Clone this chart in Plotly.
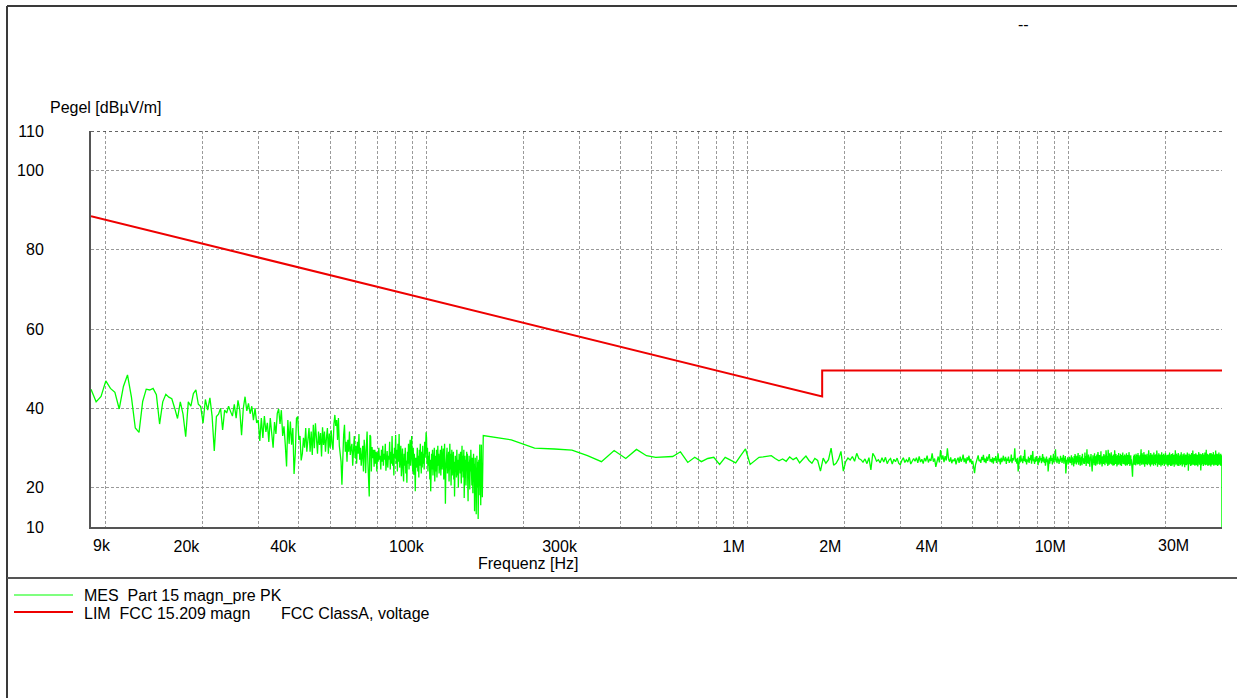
import numpy as np
import plotly.graph_objects as go

# ---- sweep definitions (Hz) ----
LOW_START, LOW_STOP = 9e3, 150e3
HIGH_START, HIGH_STOP = 150e3, 30e6

# MES  Part 15 magn_pre PK, 9 kHz - 150 kHz band (dBuV/m)
low_levels = [
    44.8, 41.6, 43.0, 46.9, 45.0, 44.0, 39.8, 45.5, 48.4, 42.8,
    35.0, 33.9, 41.7, 44.8, 44.6, 45.0, 43.4, 36.0, 41.6, 43.5,
    42.8, 42.4, 40.0, 37.4, 41.6, 38.5, 32.8, 41.6, 40.5, 43.7,
    44.6, 41.0, 40.4, 36.2, 42.2, 39.5, 42.6, 38.0, 29.2, 37.9,
    38.5, 40.0, 34.5, 39.5, 38.8, 40.5, 39.2, 38.0, 41.0, 37.5,
    42.0, 39.5, 33.2, 40.0, 42.9, 39.3, 41.2, 38.6, 40.5, 37.0,
    40.0, 36.3, 37.0, 31.7, 37.5, 32.5, 38.0, 34.0, 36.3, 31.5,
    37.5, 34.0, 30.0, 36.5, 33.5, 38.7, 39.8, 36.0, 39.5, 33.0,
    35.4, 30.8, 25.3, 37.0, 31.0, 36.6, 30.8, 35.0, 23.4, 28.5,
    37.4, 37.9, 32.0, 33.0, 26.8, 28.5, 32.5, 30.0, 35.0, 29.0,
    31.5, 35.0, 29.0, 34.1, 28.2, 35.8, 29.9, 36.2, 32.4, 28.5,
    34.1, 30.7, 33.7, 27.8, 35.2, 30.7, 34.1, 29.0, 32.5, 35.0,
    28.5, 33.6, 30.0, 34.4, 31.0, 29.5, 36.0, 38.3, 35.5, 37.0,
    32.0, 37.5, 30.5, 27.5, 26.5, 20.7, 29.9, 33.2, 35.8, 29.0,
    31.5, 26.5, 32.0, 29.0, 34.1, 28.2, 29.9, 31.0, 25.5, 29.5,
    33.0, 27.4, 30.5, 26.0, 31.5, 28.5, 33.5, 27.0, 30.0, 25.5,
    29.0, 30.5, 24.0, 32.0, 29.0, 23.6, 30.2, 34.1, 27.0, 18.2,
    17.7, 33.2, 32.8, 24.0, 30.2, 27.4, 29.5, 25.2, 29.5, 26.0,
    29.0, 24.0, 28.8, 26.5, 30.0, 27.0, 28.0, 24.5, 29.5, 26.5,
    30.5, 25.5, 28.5, 27.0, 31.0, 24.2, 27.8, 29.2, 25.0, 28.0,
    27.0, 31.5, 24.5, 29.0, 26.0, 33.0, 25.5, 28.5, 23.0, 30.0,
    27.5, 33.2, 26.0, 29.5, 24.0, 31.0, 26.5, 33.5, 25.0, 28.0,
    30.5, 22.8, 27.0, 29.8, 24.5, 21.5, 28.5, 25.5, 30.0, 23.5,
    26.8, 21.2, 29.0, 26.0, 31.0, 24.5, 28.5, 32.0, 25.5, 29.5,
    33.0, 27.0, 24.0, 30.0, 23.2, 28.5, 26.0, 19.0, 27.5, 25.0,
    26.5, 30.0, 24.0, 28.0, 22.5, 29.5, 25.5, 31.0, 27.0, 23.5,
    29.0, 25.0, 30.5, 26.0, 28.5, 24.5, 31.5, 27.5, 29.8, 33.9,
    32.5, 26.0, 30.0, 24.0, 28.0, 25.5, 29.0, 22.0, 27.0, 19.0,
    26.0, 28.5, 24.5, 29.5, 23.0, 27.5, 25.0, 30.0, 21.5, 26.5,
    28.0, 24.0, 29.5, 22.5, 27.0, 30.5, 25.5, 28.5, 23.5, 27.0,
    25.0, 29.5, 23.0, 27.5, 30.5, 24.5, 28.0, 26.0, 29.8, 22.0,
    27.0, 31.0, 25.5, 15.9, 24.0, 28.5, 26.5, 30.0, 23.5, 27.5,
    25.0, 29.0, 21.5, 27.0, 31.0, 24.5, 28.5, 20.5, 26.0, 29.5,
    23.0, 27.0, 25.5, 29.0, 22.0, 26.5, 17.7, 25.0, 28.0, 24.0,
    27.5, 22.5, 29.5, 25.5, 23.0, 27.0, 20.0, 26.0, 28.5, 24.5,
    27.0, 23.5, 29.0, 25.0, 21.0, 27.5, 30.5, 24.0, 28.0, 22.5,
    26.5, 29.5, 17.3, 25.5, 28.0, 23.0, 27.0, 20.5, 26.0, 29.0,
    24.5, 28.5, 21.5, 16.5, 26.5, 23.0, 28.0, 25.0, 19.5, 27.0,
    24.0, 29.5, 22.0, 26.5, 20.5, 27.5, 23.5, 18.5, 25.5, 28.5,
    22.0, 26.0, 14.0, 24.0, 27.5, 21.0, 25.0, 13.2, 23.5, 28.0,
    20.0, 26.5, 24.0, 12.0, 22.5, 27.0, 18.0, 25.5, 30.8, 21.5,
    26.0, 15.5, 24.5, 30.8, 20.0, 26.0, 17.5, 23.5, 28.0, 22.0,
]

# MES  Part 15 magn_pre PK, 150 kHz - 30 MHz band (dBuV/m)
high_levels = [
    33.1, 32.0, 29.9, 29.7, 29.4, 28.0, 26.5, 29.3, 27.3, 29.6,
    28.0, 27.6, 27.7, 27.8, 29.0, 26.3, 27.6, 26.5, 27.3, 27.6,
    25.8, 27.6, 26.9, 26.2, 28.0, 29.7, 25.8, 26.7, 27.6, 27.7,
    27.9, 28.0, 27.3, 26.7, 27.2, 26.6, 27.7, 27.0, 27.5, 26.2,
    27.1, 27.9, 26.8, 26.1, 27.3, 26.8, 24.1, 27.4, 26.1, 27.0,
    29.9, 25.6, 26.1, 27.2, 29.1, 24.1, 26.5, 27.4, 26.9, 27.8,
    26.6, 28.6, 27.3, 27.0, 26.4, 27.2, 26.0, 27.5, 24.4, 28.6,
    27.8, 26.6, 27.0, 26.2, 27.5, 26.4, 27.6, 26.0, 26.9, 27.3,
    25.9, 27.1, 26.5, 27.4, 26.1, 25.7, 26.8, 27.5, 26.3, 27.0,
    26.4, 27.6, 25.9, 26.7, 27.3, 26.6, 27.5, 26.2, 27.8, 26.4,
    27.1, 26.0, 27.4, 26.6, 28.0, 26.3, 27.2, 26.7, 28.6, 26.5,
    27.3, 25.2, 26.9, 27.8, 26.3, 29.4, 27.0, 28.1, 26.4, 27.9,
    26.8, 29.9, 27.2, 26.5, 27.6, 26.1, 27.0, 26.6, 27.4, 25.8,
    26.9, 27.5, 26.2, 27.8, 26.5, 27.1, 28.3, 26.4, 27.3, 26.0,
    27.6, 26.8, 28.0, 26.3, 27.2, 25.9, 26.7, 24.8, 23.6, 25.7,
    26.5, 27.4, 28.1, 26.6, 27.0, 26.2, 27.7, 26.9, 28.2, 26.4,
    27.3, 26.1, 27.8, 26.7, 27.5, 28.4, 26.5, 27.1, 26.3, 27.6,
    26.0, 27.4, 26.8, 27.9, 26.2, 27.0, 28.6, 26.5, 27.2, 25.8,
    27.5, 26.4, 27.1, 28.0, 26.6, 26.9, 27.7, 25.9, 27.3, 26.7,
    27.8, 26.2, 27.0, 26.6, 28.3, 26.1, 27.4, 26.8, 27.6, 29.9,
    26.5, 27.2, 26.0, 27.5, 24.0, 26.9, 27.7, 26.3, 28.1, 26.6,
    27.3, 26.1, 27.9, 26.7, 29.5, 26.4, 27.2, 25.8, 27.0, 26.5,
    27.8, 26.2, 27.4, 26.9, 28.2, 26.0, 27.3, 29.2, 26.6, 27.1,
    25.9, 27.6, 26.4, 27.9, 26.7, 27.2, 25.6, 27.5, 26.3, 28.0,
    26.8, 27.4, 26.1, 27.0, 28.4, 26.5, 27.7, 26.2, 27.3, 25.5,
    26.9, 27.8, 26.4, 27.1, 24.0, 26.6, 27.5, 26.0, 27.2, 28.1,
    26.7, 27.4, 25.8, 27.0, 28.5, 26.3, 27.6, 26.9, 29.6, 26.5,
    27.2, 26.1, 27.8, 26.6, 27.3, 25.9, 27.0, 26.4, 28.0, 26.8,
    27.5, 26.2, 27.1, 26.7, 28.2, 26.0, 27.4, 26.5, 27.9, 23.5,
    26.3, 27.0, 26.8, 27.6, 25.8, 27.2, 26.4, 27.7, 26.1, 27.3,
    26.2, 28.1, 25.6, 27.6, 26.7, 27.3, 25.3, 27.9, 26.0, 28.4,
    26.6, 27.5, 25.8, 28.0, 26.3, 27.1, 28.7, 25.7, 27.6, 26.4,
    28.2, 25.5, 27.3, 26.4, 27.8, 25.6, 28.5, 26.7, 27.4, 26.0,
    27.1, 25.9, 28.8, 26.5, 27.9, 25.4, 27.2, 29.6, 26.2, 27.7,
    25.9, 28.3, 26.3, 27.4, 25.2, 27.8, 26.8, 28.4, 25.8, 27.0,
    24.0, 26.7, 28.1, 26.1, 27.5, 25.6, 28.6, 26.5, 27.2, 25.5,
    27.9, 26.3, 28.3, 25.8, 27.6, 28.9, 26.4, 27.1, 25.9, 28.2,
    25.7, 27.4, 26.6, 29.1, 26.0, 27.8, 25.3, 27.2, 26.7, 28.0,
    25.9, 28.4, 26.4, 27.5, 25.6, 28.1, 26.2, 29.4, 26.7, 27.6,
    25.9, 27.9, 25.4, 29.5, 26.5, 27.4, 25.7, 28.6, 26.6, 27.8,
    26.0, 27.2, 28.9, 25.8, 28.0, 26.7, 27.5, 25.5, 28.3, 26.3,
    27.4, 25.6, 29.4, 26.5, 27.8, 25.9, 28.4, 26.6, 27.2, 25.3,
    27.7, 26.2, 28.1, 25.7, 28.7, 26.7, 27.4, 26.0, 27.9, 25.6,
    28.5, 26.4, 27.5, 25.4, 28.2, 26.3, 27.2, 28.8, 25.9, 27.8,
    26.5, 28.0, 25.8, 28.3, 26.1, 27.6, 25.5, 27.3, 26.4, 28.6,
    26.0, 27.9, 25.6, 28.2, 26.5, 27.2, 25.9, 28.9, 26.2, 27.5,
    25.4, 27.8, 26.6, 28.1, 25.8, 27.1, 26.1, 25.0, 24.1, 22.7,
    25.2, 27.5, 26.0, 28.0, 25.7, 28.3, 26.5, 27.5, 25.9, 27.9,
    25.6, 28.5, 26.4, 27.6, 26.1, 28.2, 25.8, 27.3, 28.7, 26.2,
    27.8, 25.9, 28.1, 26.6, 27.4, 25.5, 28.4, 26.2, 27.7, 29.6,
    26.5, 27.9, 25.7, 28.6, 26.4, 27.2, 26.0, 28.2, 25.8, 28.9,
    26.6, 27.6, 25.2, 28.0, 26.1, 28.3, 26.5, 27.4, 25.9, 28.1,
    26.2, 28.5, 25.6, 27.8, 26.6, 27.3, 26.0, 29.4, 26.4, 27.7,
    25.7, 28.1, 26.3, 27.6, 25.3, 28.7, 26.6, 27.2, 26.1, 28.0,
    25.8, 28.3, 26.5, 27.8, 26.0, 27.5, 25.5, 28.8, 26.2, 27.9,
    25.9, 28.2, 26.4, 27.4, 25.6, 28.4, 26.6, 27.7, 26.1, 29.3,
    26.5, 27.6, 25.2, 28.1, 26.0, 27.9, 25.8, 28.6, 26.4, 27.3,
    25.7, 28.0, 26.3, 28.3, 25.9, 27.7, 25.3, 27.5, 26.6, 28.9,
    26.1, 27.8, 25.6, 28.2, 26.5, 27.4, 26.0, 28.5, 26.2, 27.6,
    25.4, 28.1, 26.4, 27.3, 25.8, 28.7, 26.1, 27.9, 26.6, 27.5,
    26.0, 27.8, 25.6, 28.2, 26.3, 27.5, 25.3, 28.3, 26.1, 27.6,
    26.5, 28.0, 25.7, 28.8, 26.2, 27.3, 25.9, 28.1, 25.4, 27.7,
    26.3, 28.4, 26.0, 27.5, 25.5, 27.9, 26.4, 28.6, 26.1, 27.4,
    25.8, 28.2, 26.2, 27.7, 25.2, 28.3, 26.5, 27.6, 26.0, 29.4,
    26.4, 27.8, 25.6, 28.0, 26.1, 28.5, 25.9, 27.3, 26.3, 28.1,
    25.5, 27.6, 26.2, 28.7, 25.8, 27.9, 25.4, 27.5, 26.4, 28.2,
    26.0, 28.3, 26.3, 27.4, 25.6, 27.8, 26.1, 28.9, 25.9, 27.7,
    26.5, 28.0, 25.3, 27.6, 26.2, 28.4, 25.8, 27.3, 26.4, 27.9,
    25.9, 28.6, 26.1, 27.5, 25.1, 28.1, 26.5, 27.7, 25.7, 28.3,
    26.3, 27.8, 25.6, 28.2, 26.0, 27.4, 26.2, 28.8, 25.8, 27.6,
    26.4, 27.9, 24.2, 27.3, 26.1, 28.5, 25.7, 28.0, 26.3, 27.5,
    25.9, 28.3, 26.5, 27.7, 25.4, 28.1, 26.0, 27.4, 26.2, 28.7,
    25.6, 27.8, 26.4, 27.6, 25.8, 29.3, 26.1, 27.3, 26.3, 28.2,
    25.7, 27.9, 26.0, 28.4, 26.2, 27.5, 25.5, 28.1, 25.9, 27.7,
    26.5, 28.6, 25.8, 27.3, 26.1, 28.0, 25.6, 28.3, 26.4, 27.6,
    26.0, 27.8, 25.3, 28.2, 26.2, 27.4, 25.9, 28.9, 26.3, 27.5,
    25.7, 28.1, 26.1, 27.7, 26.5, 28.5, 25.8, 27.3, 24.3, 27.9,
    26.2, 27.6, 25.6, 28.4, 26.0, 28.0, 26.4, 27.5, 25.9, 28.7,
    26.3, 27.8, 25.4, 28.2, 26.1, 27.4, 25.8, 28.3, 26.5, 27.7,
    25.9, 28.8, 26.2, 27.5, 25.6, 28.1, 26.0, 27.3, 26.3, 29.5,
    26.1, 27.9, 25.7, 27.6, 26.4, 28.5, 25.9, 28.2, 25.5, 27.7,
    26.2, 27.4, 25.8, 28.3, 26.1, 28.0, 26.5, 27.5, 26.0, 28.6,
    25.6, 27.8, 26.3, 28.1, 25.9, 27.3, 25.3, 28.7, 26.2, 27.6,
    26.4, 28.2, 25.7, 27.7, 26.1, 28.4, 25.8, 27.9, 26.5, 27.4,
    26.0, 28.9, 26.2, 27.5, 25.5, 28.1, 25.9, 27.8, 26.3, 28.3,
    25.7, 27.6, 26.4, 28.0, 26.0, 29.3, 26.1, 27.4, 25.6, 28.2,
    26.2, 27.7, 25.8, 28.5, 26.5, 27.3, 25.9, 27.9, 25.4, 28.4,
    26.3, 27.5, 26.0, 28.2, 25.7, 28.8, 26.2, 27.6, 26.4, 28.0,
    25.8, 28.3, 26.1, 27.4, 26.5, 27.8, 25.5, 28.5, 26.0, 27.3,
    26.3, 27.7, 25.7, 28.1, 25.9, 0.0,
]

# LIM  FCC 15.209 magn (dBuV/m)
limit_freq = [9e3, 1.705e6, 1.705e6, 30e6]
limit_level = [88.5, 42.95, 49.54, 49.54]

# axis definitions
Y_MIN, Y_MAX = 10, 110
y_ticks = [10, 20, 40, 60, 80, 100, 110]
x_grid = [m * d for d in (1e4, 1e5, 1e6, 1e7) for m in range(1, 10) if m * d <= 3e7]
x_labels = {2e4: "20k", 4e4: "40k", 1e5: "100k", 3e5: "300k",
            1e6: "1M", 2e6: "2M", 4e6: "4M", 1e7: "10M"}
x_first_label, x_last_label = "9k", "30M"

low_freq = np.linspace(LOW_START, LOW_STOP, len(low_levels))
high_freq = np.linspace(HIGH_START, HIGH_STOP, len(high_levels))
mes_freq = np.concatenate([low_freq, high_freq])
mes_level = np.array(low_levels + high_levels)

# ---- page geometry (px) ----
W, H = 1237, 698
ML, MR, MT, MB = 91, 15, 131, 171
PW, PH = W - ML - MR, H - MT - MB


def px(x):
    return (x - ML) / PW


def py(y):
    return (H - MB - y) / PH


FONT = "Liberation Sans, Arial, sans-serif"
FRAME = "#3a3a3a"

fig = go.Figure()
fig.add_trace(go.Scatter(x=mes_freq, y=mes_level, mode="lines",
                         line=dict(color="#00ff00", width=1.3),
                         showlegend=False, hoverinfo="skip"))
fig.add_trace(go.Scatter(x=limit_freq, y=limit_level, mode="lines",
                         line=dict(color="#ee0000", width=2),
                         showlegend=False, hoverinfo="skip"))

shapes = [
    # dotted top border of plot area
    dict(type="line", xref="paper", yref="y", x0=0, x1=1, y0=Y_MAX, y1=Y_MAX,
         line=dict(color="#333333", width=1.5, dash="dot")),
    # page frame
    dict(type="line", xref="paper", yref="paper", x0=px(7), x1=px(W + 5),
         y0=py(6), y1=py(6), line=dict(color=FRAME, width=2)),
    dict(type="line", xref="paper", yref="paper", x0=px(7), x1=px(7),
         y0=py(6), y1=py(H + 5), line=dict(color=FRAME, width=2)),
    dict(type="line", xref="paper", yref="paper", x0=px(7), x1=px(W + 5),
         y0=py(578), y1=py(578), line=dict(color="#555555", width=2)),
    # legend samples
    dict(type="line", xref="paper", yref="paper", x0=px(14), x1=px(73),
         y0=py(595), y1=py(595), line=dict(color="#00ff00", width=1.2)),
    dict(type="line", xref="paper", yref="paper", x0=px(14), x1=px(73),
         y0=py(612), y1=py(612), line=dict(color="#ee0000", width=2)),
]

NB = "\u00a0"


def label(text, x, y, anchor="left"):
    return dict(text=text, xref="paper", yref="paper", x=px(x), y=py(y),
                xanchor=anchor, yanchor="middle", showarrow=False,
                font=dict(family=FONT, size=16, color="#000000"))


annotations = [
    label("Pegel [dBµV/m]", 48, 107),
    label("Frequenz [Hz]", 528, 563, "center"),
    label(x_first_label, 91, 545),
    label(x_last_label, 1191, 545, "right"),
    label("--", 1016, 25),
    label("MES" + NB * 2 + "Part 15 magn_pre PK", 82, 596),
    label("LIM" + NB * 2 + "FCC 15.209 magn", 82, 613),
    label("FCC ClassA, voltage", 279, 613),
]

fig.update_layout(
    width=W, height=H,
    margin=dict(l=ML, r=MR, t=MT, b=MB, pad=0, autoexpand=False),
    paper_bgcolor="white", plot_bgcolor="white",
    font=dict(family=FONT, size=16, color="#000000"),
    shapes=shapes, annotations=annotations,
    showlegend=False,
)

fig.update_xaxes(
    type="log", range=[np.log10(9e3), np.log10(3e7)],
    tickvals=x_grid, ticktext=[x_labels.get(v, "") for v in x_grid],
    ticks="", ticklabelposition="outside left", ticklabelstandoff=4,
    ticklabelshift=-2,
    showgrid=True, gridcolor="#9a9a9a", gridwidth=1, griddash="3px,2px",
    showline=True, linecolor="#555555", linewidth=2,
    tickfont=dict(family=FONT, size=16, color="#000000"),
    zeroline=False,
)
fig.update_yaxes(
    range=[Y_MIN, Y_MAX], tickvals=y_ticks,
    ticks="", ticklabelstandoff=42,
    showgrid=True, gridcolor="#9a9a9a", gridwidth=1, griddash="3px,2px",
    showline=True, linecolor="#555555", linewidth=2,
    tickfont=dict(family=FONT, size=16, color="#000000"),
    zeroline=False,
)

fig.write_html("out.html")
